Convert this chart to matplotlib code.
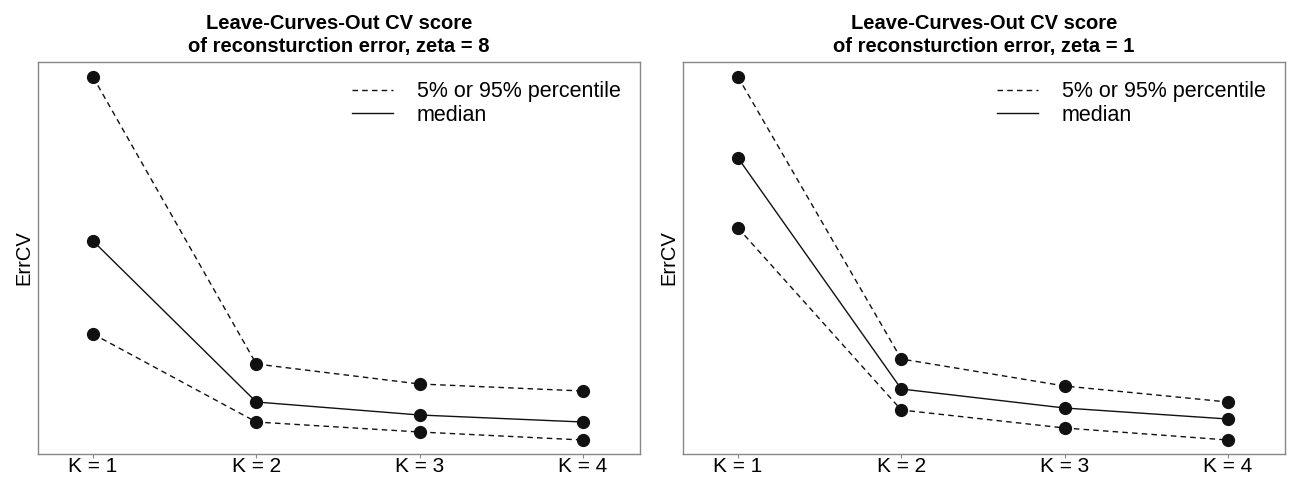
import matplotlib
matplotlib.use("Agg")
import matplotlib.pyplot as plt

plt.rcParams['font.family'] = ['Liberation Sans', 'DejaVu Sans']

k_labels = ["K = 1", "K = 2", "K = 3", "K = 4"]
k_pos = [1, 2, 3, 4]

# zeta = 8
z8_upper = [3.83, 0.96, 0.76, 0.69]
z8_median = [2.19, 0.58, 0.45, 0.38]
z8_lower = [1.26, 0.38, 0.28, 0.20]

# zeta = 1
z1_upper = [3.83, 1.01, 0.74, 0.58]
z1_median = [3.02, 0.71, 0.52, 0.41]
z1_lower = [2.32, 0.50, 0.32, 0.20]

titles = ["Leave-Curves-Out CV score\nof reconsturction error, zeta = 8",
          "Leave-Curves-Out CV score\nof reconsturction error, zeta = 1"]

fig = plt.figure(figsize=(13.09, 4.8), dpi=100)
lefts = [38 / 1309, 683 / 1309]
data = [(z8_upper, z8_median, z8_lower), (z1_upper, z1_median, z1_lower)]
frame_col = '#888888'
mcol = '#111111'

for i in range(2):
    ax = fig.add_axes([lefts[i], 26 / 480, 602 / 1309, 392 / 480])
    up, med, lo = data[i]
    ax.plot(k_pos, up, ls=(0, (4, 3)), color=mcol, lw=1.0, marker='o', ms=8.5)
    ax.plot(k_pos, med, ls='-', color=mcol, lw=1.0, marker='o', ms=8.5)
    ax.plot(k_pos, lo, ls=(0, (4, 3)), color=mcol, lw=1.0, marker='o', ms=8.5)
    ax.set_xlim(0.663, 4.35)
    ax.set_ylim(0.06, 3.98)
    ax.set_xticks(k_pos)
    ax.set_xticklabels(k_labels, fontsize=15)
    ax.set_yticks([])
    ax.tick_params(axis='x', direction='out', length=3, color=frame_col, pad=-1)
    for s in ax.spines.values():
        s.set_color(frame_col)
        s.set_linewidth(1.0)
    ax.set_ylabel("ErrCV", fontsize=14.5, labelpad=3)
    ax.set_title(titles[i], fontsize=14.5, fontweight='bold', pad=7, linespacing=1.3)
    h1, = ax.plot([], [], ls=(0, (4, 3)), color=mcol, lw=1.0)
    h2, = ax.plot([], [], ls='-', color=mcol, lw=1.0)
    ax.legend([h1, h2], ["5% or 95% percentile", "median"], loc='upper right',
              frameon=False, fontsize=15.5, handlelength=1.9, handletextpad=1.1,
              borderaxespad=0.5, labelspacing=0.1)

fig.savefig("out.png", dpi=100)
